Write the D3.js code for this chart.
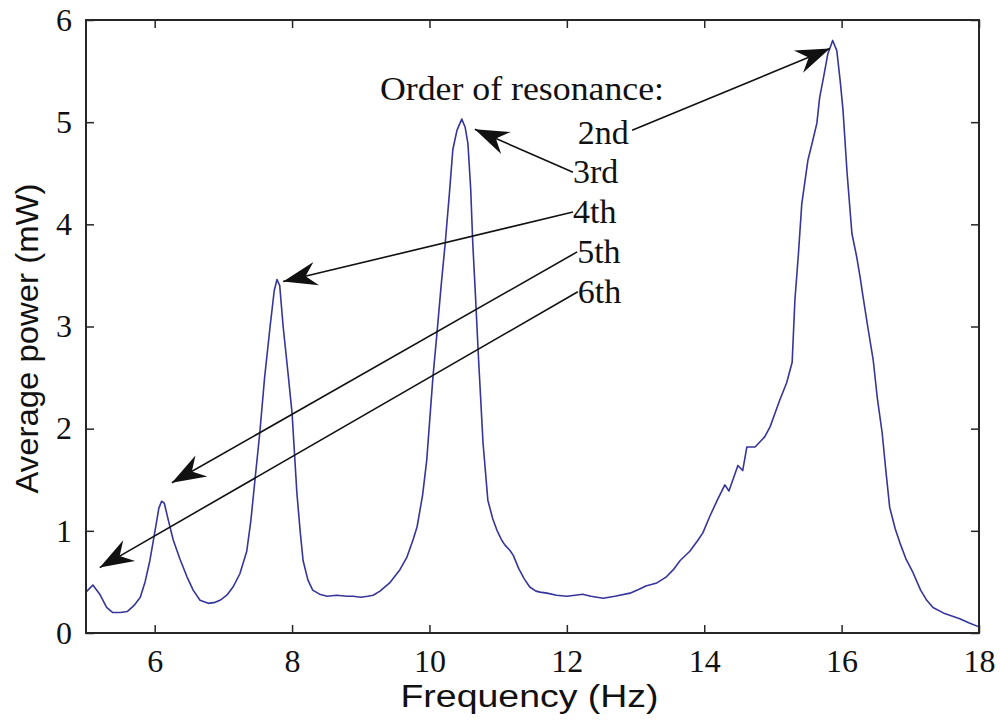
<!DOCTYPE html>
<html>
<head>
<meta charset="utf-8">
<script src="https://cdn.jsdelivr.net/npm/d3@7"></script>
<style>
  body { margin: 0; background: #fff; }
  svg { display: block; }
</style>
</head>
<body>
<svg id="drawing_region"></svg>
<script>
// frequency (Hz) and average power (mW)
var freq = [5.00, 5.10, 5.20, 5.30, 5.39, 5.50, 5.60, 5.70, 5.79, 5.86, 5.93, 6.00, 6.06, 6.10, 6.14, 6.20,
  6.27, 6.37, 6.47, 6.56, 6.66, 6.78, 6.88, 6.95, 7.05, 7.14, 7.24, 7.34, 7.40, 7.46, 7.53, 7.60,
  7.68, 7.74, 7.78, 7.82, 7.87, 7.94, 8.00, 8.07, 8.12, 8.16, 8.23, 8.30, 8.40, 8.51, 8.65, 8.80,
  8.89, 9.00, 9.10, 9.18, 9.28, 9.42, 9.57, 9.67, 9.76, 9.82, 9.90, 9.96, 10.05, 10.11, 10.17, 10.23,
  10.29, 10.34, 10.40, 10.47, 10.52, 10.56, 10.60, 10.63, 10.67, 10.71, 10.78, 10.85, 10.92, 10.98,
  11.05, 11.10, 11.17, 11.22, 11.30, 11.38, 11.46, 11.55, 11.61, 11.71, 11.85, 12.00, 12.12, 12.23,
  12.35, 12.53, 12.70, 12.92, 13.06, 13.15, 13.31, 13.45, 13.55, 13.65, 13.79, 13.90, 13.98, 14.08,
  14.19, 14.30, 14.36, 14.49, 14.56, 14.62, 14.74, 14.88, 14.96, 15.03, 15.10, 15.20, 15.28, 15.32,
  15.37, 15.42, 15.51, 15.58, 15.64, 15.68, 15.74, 15.80, 15.87, 15.93, 15.98, 16.02, 16.08, 16.15,
  16.22, 16.27, 16.31, 16.38, 16.46, 16.52, 16.59, 16.65, 16.70, 16.78, 16.85, 16.94, 17.04, 17.15,
  17.24, 17.33, 17.50, 17.72, 17.85, 18.00];
var power = [0.40, 0.47, 0.38, 0.25, 0.20, 0.20, 0.21, 0.27, 0.35, 0.50, 0.71, 0.98, 1.22, 1.29, 1.27, 1.10,
  0.91, 0.72, 0.55, 0.42, 0.32, 0.29, 0.30, 0.32, 0.37, 0.45, 0.58, 0.80, 1.10, 1.50, 1.96, 2.50,
  3.00, 3.35, 3.46, 3.40, 3.00, 2.55, 2.15, 1.37, 0.98, 0.71, 0.52, 0.42, 0.38, 0.36, 0.37, 0.36,
  0.36, 0.35, 0.36, 0.37, 0.41, 0.49, 0.62, 0.74, 0.91, 1.04, 1.35, 1.69, 2.50, 2.94, 3.40, 3.82,
  4.30, 4.73, 4.92, 5.03, 4.95, 4.79, 4.35, 3.82, 3.30, 2.74, 1.86, 1.30, 1.12, 1.01,
  0.91, 0.86, 0.81, 0.76, 0.63, 0.53, 0.45, 0.41, 0.40, 0.39, 0.37, 0.36, 0.37, 0.38,
  0.36, 0.34, 0.36, 0.39, 0.43, 0.46, 0.49, 0.55, 0.62, 0.71, 0.80, 0.90, 0.98, 1.14,
  1.30, 1.45, 1.39, 1.64, 1.59, 1.82, 1.82, 1.92, 2.02, 2.15, 2.28, 2.45, 2.65, 3.26,
  3.70, 4.20, 4.63, 4.82, 4.99, 5.24, 5.45, 5.67, 5.80, 5.70, 5.40, 5.12, 4.50, 3.91,
  3.68, 3.48, 3.30, 3.00, 2.67, 2.30, 1.96, 1.55, 1.23, 1.02, 0.88, 0.72, 0.59, 0.42,
  0.32, 0.25, 0.19, 0.14, 0.10, 0.06];

var xTicks = [6, 8, 10, 12, 14, 16, 18];
var yTicks = [0, 1, 2, 3, 4, 5, 6];

// annotation: labels and arrows, in data units
var noteTitle = "Order of resonance:";
var notePos = [9.28, 5.22];
var orderLabels = ["2nd", "3rd", "4th", "5th", "6th"];
var labelX = [12.16, 12.09, 12.09, 12.15, 12.16];
var labelY = [4.79, 4.40, 4.01, 3.62, 3.23];
var arrowFromX = [12.95, 12.09, 12.09, 12.15, 12.16];
var arrowFromY = [4.92, 4.51, 4.12, 3.73, 3.34];
var arrowToX = [15.83, 10.66, 7.87, 6.25, 5.20];
var arrowToY = [5.72, 4.93, 3.44, 1.47, 0.64];

var margin = { top: 20, right: 21, bottom: 91, left: 86 };
var width = 1000 - margin.left - margin.right;
var height = 724 - margin.top - margin.bottom;

var root = d3.select('#drawing_region')
    .attr('width', 1000)
    .attr('height', 724);

var svg = root.append('g')
    .attr('transform', 'translate(' + margin.left + ',' + margin.top + ')');

var xScale = d3.scaleLinear().domain([5, 18]).range([0, width]);
var yScale = d3.scaleLinear().domain([0, 6]).range([height, 0]);

var serif = '"Liberation Serif", "Times New Roman", serif';
var sans = '"Liberation Sans", Arial, sans-serif';
var axisColor = '#262626';

// curve
var data = freq.map(function(f, i) { return { x: f, y: power[i] }; });
svg.append('path')
    .datum(data)
    .attr('fill', 'none')
    .attr('stroke', '#35359b')
    .attr('stroke-width', 1.6)
    .attr('stroke-linejoin', 'round')
    .attr('d', d3.line().x(d => xScale(d.x)).y(d => yScale(d.y)));

// axes: ticks inward on all four sides
function styleAxis(g, showLabels) {
    g.select('.domain').remove();
    g.selectAll('.tick line').attr('stroke', axisColor).attr('stroke-width', 1.5);
    g.selectAll('.tick text')
        .style('font-family', serif)
        .style('font-size', '32px')
        .attr('fill', '#111');
    if (!showLabels) g.selectAll('.tick text').remove();
}

svg.append('g')
    .attr('transform', 'translate(0,' + height + ')')
    .call(d3.axisBottom(xScale).tickValues(xTicks).tickSize(-8).tickPadding(16).tickFormat(d3.format('d')))
    .call(g => styleAxis(g, true));

svg.append('g')
    .call(d3.axisTop(xScale).tickValues(xTicks).tickSize(-8))
    .call(g => styleAxis(g, false));

svg.append('g')
    .call(d3.axisLeft(yScale).tickValues(yTicks).tickSize(-8).tickPadding(14).tickFormat(d3.format('d')))
    .call(g => styleAxis(g, true));

svg.append('g')
    .attr('transform', 'translate(' + width + ',0)')
    .call(d3.axisRight(yScale).tickValues(yTicks).tickSize(-8))
    .call(g => styleAxis(g, false));

svg.append('rect')
    .attr('x', 0).attr('y', 0)
    .attr('width', width).attr('height', height)
    .attr('fill', 'none')
    .attr('stroke', axisColor)
    .attr('stroke-width', 2);

// axis titles
svg.append('text')
    .attr('x', width / 2 - 3)
    .attr('y', height + 74)
    .attr('text-anchor', 'middle')
    .attr('textLength', 258)
    .attr('lengthAdjust', 'spacingAndGlyphs')
    .style('font-family', sans)
    .style('font-size', '31px')
    .attr('fill', '#111')
    .text('Frequency (Hz)');

svg.append('text')
    .attr('transform', 'rotate(-90)')
    .attr('x', -(height / 2) - 12)
    .attr('y', -48)
    .attr('text-anchor', 'middle')
    .attr('textLength', 310)
    .attr('lengthAdjust', 'spacingAndGlyphs')
    .style('font-family', sans)
    .style('font-size', '31px')
    .attr('fill', '#111')
    .text('Average power (mW)');

// annotation
svg.append('text')
    .attr('x', xScale(notePos[0]))
    .attr('y', yScale(notePos[1]))
    .attr('textLength', 284)
    .attr('lengthAdjust', 'spacingAndGlyphs')
    .style('font-family', serif)
    .style('font-size', '33px')
    .attr('fill', '#111')
    .text(noteTitle);

svg.selectAll('.order-label')
    .data(orderLabels)
    .enter()
    .append('text')
    .attr('class', 'order-label')
    .attr('x', (d, i) => xScale(labelX[i]))
    .attr('y', (d, i) => yScale(labelY[i]))
    .style('font-family', serif)
    .style('font-size', '34px')
    .attr('fill', '#111')
    .text(d => d);

svg.selectAll('.arrow-line')
    .data(orderLabels)
    .enter()
    .append('line')
    .attr('class', 'arrow-line')
    .attr('x1', (d, i) => xScale(arrowFromX[i]))
    .attr('y1', (d, i) => yScale(arrowFromY[i]))
    .attr('x2', (d, i) => xScale(arrowToX[i]))
    .attr('y2', (d, i) => yScale(arrowToY[i]))
    .attr('stroke', '#111')
    .attr('stroke-width', 1.6);

// filled, swept arrow heads at the tips
svg.selectAll('.arrow-head')
    .data(orderLabels)
    .enter()
    .append('path')
    .attr('class', 'arrow-head')
    .attr('d', 'M0,0 L-34,-12 L-23,0 L-34,12 Z')
    .attr('fill', '#111')
    .attr('transform', function(d, i) {
        var x1 = xScale(arrowFromX[i]), y1 = yScale(arrowFromY[i]);
        var x2 = xScale(arrowToX[i]), y2 = yScale(arrowToY[i]);
        var ang = Math.atan2(y2 - y1, x2 - x1) * 180 / Math.PI;
        return 'translate(' + x2 + ',' + y2 + ') rotate(' + ang + ')';
    });
</script>
</body>
</html>
